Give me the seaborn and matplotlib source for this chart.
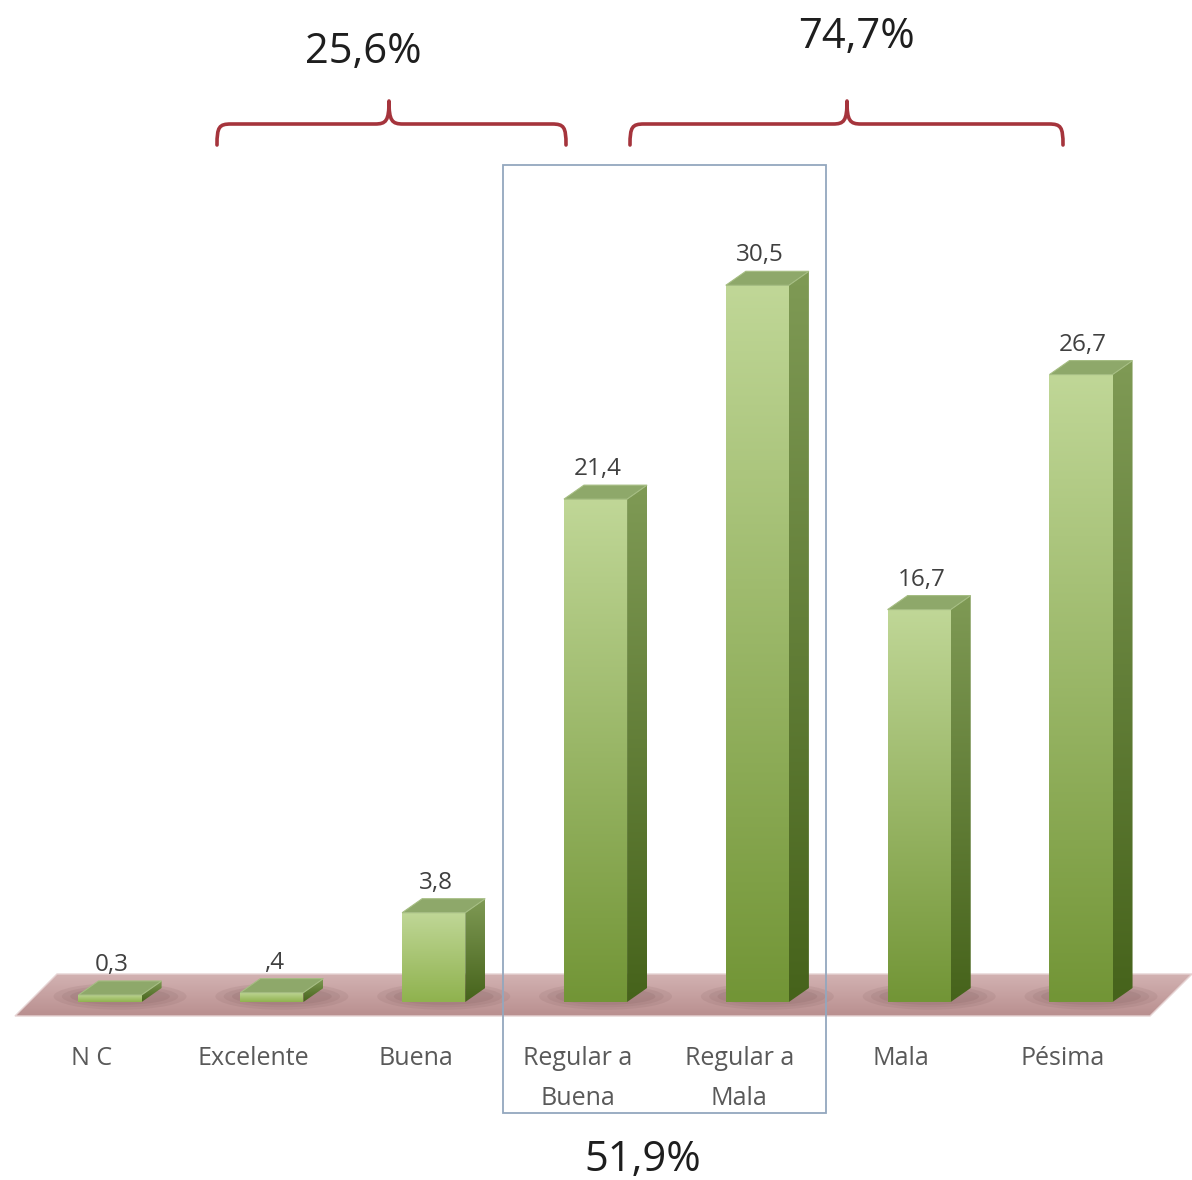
import numpy as np
import pandas as pd
import matplotlib
matplotlib.use("Agg")
import matplotlib.pyplot as plt
import seaborn as sns
from matplotlib.patches import Polygon, Rectangle, PathPatch, Ellipse
from matplotlib.path import Path
from matplotlib.colors import LinearSegmentedColormap
from matplotlib.transforms import Affine2D

# ---------------- data ----------------
categories = ["N C", "Excelente", "Buena", "Regular a\nBuena", "Regular a\nMala", "Mala", "Pésima"]
values = [0.3, 0.4, 3.8, 21.4, 30.5, 16.7, 26.7]
value_labels = ["0,3", ",4", "3,8", "21,4", "30,5", "16,7", "26,7"]
group_labels = ["25,6%", "74,7%", "51,9%"]

W, H = 1192, 1180
sns.set_theme(style="white")
plt.rcParams["font.family"] = ["Open Sans", "DejaVu Sans"]

fig = plt.figure(figsize=(W / 100, H / 100), dpi=100)
ax = fig.add_axes([0, 0, 1, 1])
df = pd.DataFrame({"cat": categories, "val": values})
sns.barplot(data=df, x="cat", y="val", ax=ax, width=0.39, color="#9cbf5c",
            saturation=1, zorder=3)
bars = list(ax.patches)

XMIN, XMAX = -0.680, 6.686
YMIN, YMAX = -7.574, 42.64


def p2d(px, py):
    return (XMIN + px / W * (XMAX - XMIN), YMAX - py / H * (YMAX - YMIN))


tp = Affine2D().scale(1 / W, -1 / H).translate(0, 1) + ax.transAxes

dx = 20 / W * (XMAX - XMIN)
dy = 14 / H * (YMAX - YMIN)


def grad_fill(poly_pts, c_top, c_bot, z):
    poly = Polygon(poly_pts, closed=True, facecolor="none", edgecolor="none", zorder=z)
    ax.add_patch(poly)
    xs = [p[0] for p in poly_pts]
    ys = [p[1] for p in poly_pts]
    cmap = LinearSegmentedColormap.from_list("g", [c_bot, c_top])
    g = np.linspace(0, 1, 256).reshape(-1, 1)
    im = ax.imshow(g, cmap=cmap, origin="lower", aspect="auto",
                   extent=[min(xs), max(xs), min(ys), max(ys)], zorder=z,
                   interpolation="bilinear")
    im.set_clip_path(poly)
    return poly


# ---------------- floor ----------------
floor_px = [(15, 1016), (1150, 1016), (1192, 974), (57, 974)]
floor = [p2d(*p) for p in floor_px]
grad_fill(floor, "#d3b3b3", "#b98f8f", 1)
ax.add_patch(Polygon(floor, closed=True, facecolor="none", edgecolor="#e6d3d3",
                     lw=1.0, zorder=1.2))

# ---------------- bars (3D look) ----------------
for i, patch in enumerate(bars):
    x0 = patch.get_x()
    w = patch.get_width()
    h = patch.get_height()
    x1 = x0 + w
    # shadow on floor
    for k, a in enumerate([0.10, 0.10, 0.12]):
        ax.add_patch(Ellipse(((x0 + x1 + dx) / 2, dy * 0.4), (w + dx) * (1.6 - 0.2 * k),
                             dy * (1.9 - 0.35 * k), facecolor="#6d4a4a", alpha=a,
                             edgecolor="none", zorder=1.5))
    patch.set_facecolor("none")
    patch.set_edgecolor("none")
    front = [(x0, 0), (x1, 0), (x1, h), (x0, h)]
    grad_fill(front, "#c0d797", "#729536" if h > 5 else "#8fb24e", 3)
    side = [(x1, 0), (x1 + dx, dy), (x1 + dx, h + dy), (x1, h)]
    grad_fill(side, "#7f9a55", "#46631b", 3)
    cap = [(x0, h), (x1, h), (x1 + dx, h + dy), (x0 + dx, h + dy)]
    ax.add_patch(Polygon(cap, closed=True, facecolor="#8ea86a", edgecolor="#a5bd82",
                         lw=0.8, zorder=3.2))
    ax.annotate(value_labels[i], (x0 + w / 2, h), xytext=(1.5, 21.5),
                textcoords="offset points", ha="center", va="center",
                fontsize=17.5, color="#404040", zorder=5)
    ax.annotate(categories[i], (x0 + w / 2, 0), xytext=(-13, -31.5),
                textcoords="offset points", ha="center", va="top",
                fontsize=18, color="#595959", linespacing=1.8, zorder=5)

# ---------------- box around middle group ----------------
ax.add_patch(Rectangle((503, 165), 323, 948, transform=tp, facecolor="none",
                       edgecolor="#93a7be", lw=1.3, zorder=4))


# ---------------- braces ----------------
def brace(xl, xr, xt, yb=124, yt=101, ye=145, r=14):
    verts = [
        (xl, ye), (xl, yb + 3), (xl + 2, yb), (xl + r, yb),
        (xt - r, yb), (xt - 3, yb), (xt, yb - 3), (xt, yt),
        (xt, yb - 3), (xt + 3, yb), (xt + r, yb),
        (xr - r, yb), (xr - 2, yb), (xr, yb + 3), (xr, ye),
    ]
    codes = [Path.MOVETO, Path.CURVE4, Path.CURVE4, Path.CURVE4,
             Path.LINETO, Path.CURVE4, Path.CURVE4, Path.CURVE4,
             Path.CURVE4, Path.CURVE4, Path.CURVE4,
             Path.LINETO, Path.CURVE4, Path.CURVE4, Path.CURVE4]
    ax.add_patch(PathPatch(Path(verts, codes), transform=tp, facecolor="none",
                           edgecolor="#a5343c", lw=2.6, capstyle="round",
                           joinstyle="round", zorder=4))


brace(217, 566, 389)
brace(630, 1063, 847)

ax.text(363, 52, group_labels[0], transform=tp, ha="center", va="center",
        fontsize=30, color="#1e1e1e")
ax.text(856, 37, group_labels[1], transform=tp, ha="center", va="center",
        fontsize=30, color="#1e1e1e")
ax.text(643, 1160, group_labels[2], transform=tp, ha="center", va="center",
        fontsize=30, color="#1e1e1e")

ax.set_xlim(XMIN, XMAX)
ax.set_ylim(YMIN, YMAX)
ax.axis("off")
fig.savefig("out.png", dpi=100, facecolor="white")
